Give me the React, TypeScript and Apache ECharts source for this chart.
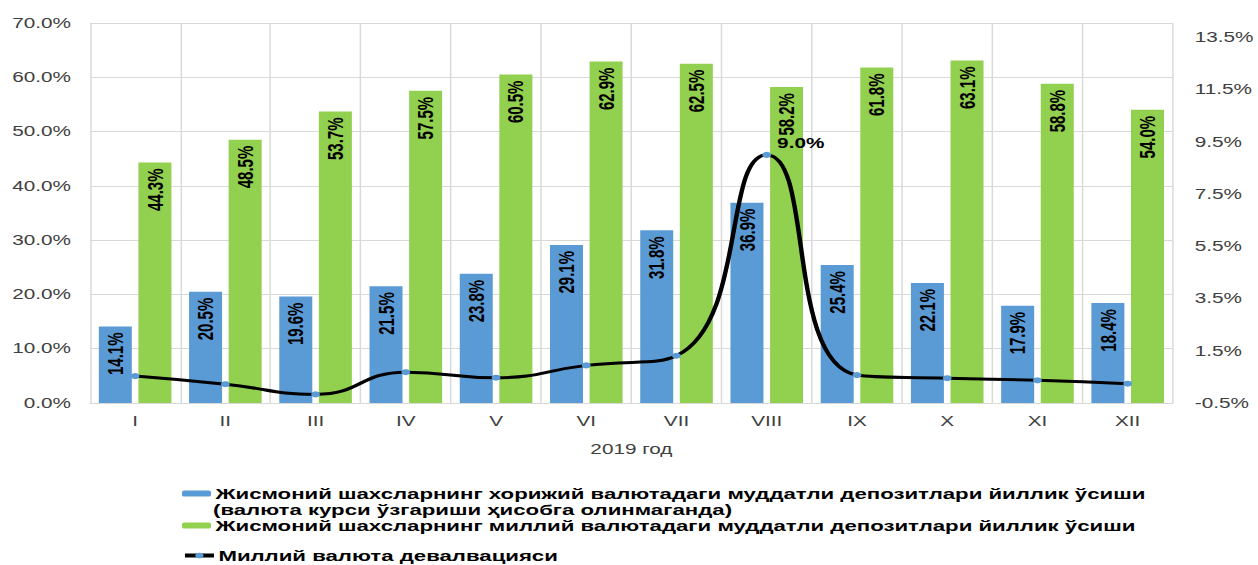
import React, { useEffect, useRef } from "react";
import * as echarts from "echarts";

const categories = ["I", "II", "III", "IV", "V", "VI", "VII", "VIII", "IX", "X", "XI", "XII"];
const foreignDeposits = [14.1, 20.5, 19.6, 21.5, 23.8, 29.1, 31.8, 36.9, 25.4, 22.1, 17.9, 18.4];
const nationalDeposits = [44.3, 48.5, 53.7, 57.5, 60.5, 62.9, 62.5, 58.2, 61.8, 63.1, 58.8, 54.0];
const devaluation = [0.53, 0.22, -0.17, 0.68, 0.47, 0.94, 1.31, 9.0, 0.57, 0.45, 0.37, 0.24];

const nameForeign = "Жисмоний шахсларнинг хорижий валютадаги муддатли депозитлари йиллик ўсиши";
const nameForeign2 = "(валюта курси ўзгариши ҳисобга олинмаганда)";
const nameNational = "Жисмоний шахсларнинг миллий валютадаги муддатли депозитлари йиллик ўсиши";
const nameDeval = "Миллий валюта девалвацияси";
const xName = "2019 год";

const FONT = "'Liberation Sans', Arial, sans-serif";
// the reference picture is stretched horizontally
const S = 1.48;
const W = 1258;
const H = 565;
const IW = W / S;
const X = (v: number) => v / S;

export default function App() {
  const ref = useRef<HTMLDivElement>(null);
  useEffect(() => {
    if (!ref.current) return;
    const chart = echarts.init(ref.current, undefined, { renderer: "svg" });
    const barLabel = {
      show: true,
      position: "insideTop",
      rotate: 90,
      align: "right",
      verticalAlign: "middle",
      distance: 6,
      fontFamily: FONT,
      fontWeight: "bold",
      fontSize: 15,
      color: "#000",
      formatter: (p: any) => p.value.toFixed(1) + "%",
    };
    const legendText = { fontFamily: FONT, fontSize: 15, fontWeight: "bold", color: "#000", padding: [0, 0, 0, -2] };
    const legendCommon = {
      left: X(182), itemWidth: X(29), itemHeight: 6, itemGap: 0, padding: 0,
      textStyle: legendText,
    };
    chart.setOption({
      animation: false,
      grid: { left: X(90), right: X(85), top: 23, bottom: 162, containLabel: false },
      legend: [
        { ...legendCommon, data: [nameForeign], top: 486 },
        { ...legendCommon, data: [nameNational], top: 518 },
        {
          ...legendCommon, data: [nameDeval], top: 548, itemHeight: 7,
          lineStyle: { width: 4, color: "#000" },
        },
      ],
      graphic: [
        {
          type: "text", left: X(213), top: 502,
          style: { text: nameForeign2, fontFamily: FONT, fontSize: 15, fontWeight: "bold", fill: "#000" },
        },
      ],
      xAxis: {
        type: "category",
        data: categories,
        name: xName,
        nameLocation: "middle",
        nameGap: 39,
        nameTextStyle: { fontFamily: FONT, fontSize: 14, color: "#404040" },
        axisLine: { lineStyle: { color: "#d9d9d9", width: 1 } },
        axisTick: { show: false },
        axisLabel: { fontFamily: FONT, fontSize: 14, color: "#404040", margin: 11 },
        splitLine: { show: true, lineStyle: { color: "#d9d9d9", width: 1 } },
      },
      yAxis: [
        {
          type: "value", min: 0, max: 70, interval: 10,
          axisLine: { show: false }, axisTick: { show: false },
          axisLabel: {
            fontFamily: FONT, fontSize: 14, color: "#404040", margin: X(19),
            formatter: (v: number) => v.toFixed(1) + "%",
          },
          splitLine: { lineStyle: { color: "#d9d9d9", width: 1 } },
        },
        {
          type: "value", min: -0.5, max: 14.05, interval: 2,
          axisLine: { show: false }, axisTick: { show: false },
          splitLine: { show: false },
          axisLabel: {
            fontFamily: FONT, fontSize: 14, color: "#404040", margin: X(22),
            formatter: (v: number) => {
              const k = (v + 0.5) / 2;
              return Math.abs(k - Math.round(k)) < 1e-6 ? v.toFixed(1) + "%" : "";
            },
          },
        },
      ],
      series: [
        {
          name: nameForeign, type: "bar", data: foreignDeposits, barWidth: X(33), barGap: "20%",
          itemStyle: { color: "#5B9BD5" }, label: barLabel,
        },
        {
          name: nameNational, type: "bar", data: nationalDeposits, barWidth: X(33),
          itemStyle: { color: "#92D050" }, label: barLabel,
        },
        {
          name: nameDeval, type: "line", yAxisIndex: 1, data: devaluation, smooth: 0.5,
          symbol: "circle", symbolSize: 6,
          lineStyle: { color: "#000", width: 3 },
          itemStyle: { color: "#5B9BD5", borderWidth: 0 },
          label: {
            show: true,
            position: [10, -16],
            fontFamily: FONT, fontSize: 14, fontWeight: "bold", color: "#000",
            formatter: (p: any) => (p.dataIndex === 7 ? p.value.toFixed(1) + "%" : ""),
          },
          z: 5,
        },
      ],
    });
    return () => chart.dispose();
  }, []);
  return (
    <div style={{ position: "fixed", left: 0, top: 0, width: W, height: H, overflow: "hidden", background: "#fff" }}>
      <div
        ref={ref}
        style={{ width: IW, height: H, transform: `scaleX(${S})`, transformOrigin: "0 0" }}
      />
    </div>
  );
}
